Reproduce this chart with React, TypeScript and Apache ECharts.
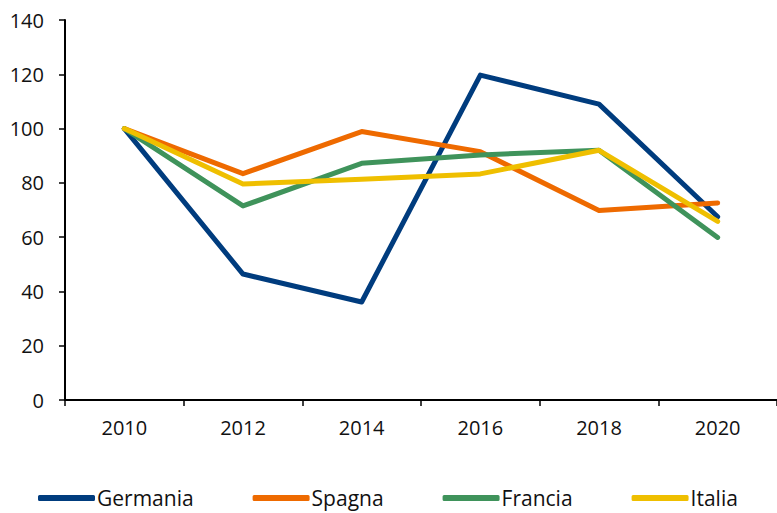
import React, { useEffect, useRef } from "react";
import * as echarts from "echarts";

const categories = ["2010", "2012", "2014", "2016", "2018", "2020"];
const germania = [100, 46.4, 36.1, 119.7, 109, 67.5];
const spagna = [100, 83.4, 98.9, 91.5, 69.8, 72.6];
const francia = [100, 71.5, 87.2, 90.3, 92, 59.9];
const italia = [100, 79.6, 81.3, 83.3, 92, 65.8];
const yTicks = { min: 0, max: 140, interval: 20 };

const seriesDefs = [
  { name: "Germania", data: germania, color: "#003C7E" },
  { name: "Spagna", data: spagna, color: "#EE6A00" },
  { name: "Francia", data: francia, color: "#3F935B" },
  { name: "Italia", data: italia, color: "#EFBF00" },
];

const FONT = "Open Sans";

export default function App() {
  const ref = useRef<HTMLDivElement>(null);
  useEffect(() => {
    document.body.style.margin = "0";
    const chart = echarts.init(ref.current!, null, { renderer: "svg" });
    chart.setOption({
      animation: false,
      backgroundColor: "#ffffff",
      grid: { left: 65, top: 20, width: 716, height: 380, containLabel: false },
      xAxis: {
        type: "category",
        data: categories,
        boundaryGap: true,
        axisLine: { show: true, lineStyle: { color: "#000", width: 2 } },
        axisTick: { show: true, length: 6, lineStyle: { color: "#000", width: 1.5 } },
        axisLabel: { color: "#111", fontFamily: FONT, fontSize: 20, margin: 17 },
        splitLine: { show: false },
      },
      yAxis: {
        type: "value",
        min: yTicks.min,
        max: yTicks.max,
        interval: yTicks.interval,
        axisLine: { show: true, lineStyle: { color: "#000", width: 2 } },
        axisTick: { show: true, length: 6, lineStyle: { color: "#000", width: 1.5 } },
        axisLabel: { color: "#111", fontFamily: FONT, fontSize: 20, margin: 21 },
        splitLine: { show: false },
      },
      legend: {
        left: 33,
        top: 482,
        itemWidth: 57,
        itemHeight: 6,
        itemGap: 59,
        icon: "roundRect",
        textStyle: {
          color: "#111",
          fontFamily: FONT,
          fontSize: 21,
          lineHeight: 22,
          padding: [0, 0, 0, -3],
        },
        data: seriesDefs.map((s) => s.name),
      },
      series: seriesDefs.map((s) => ({
        name: s.name,
        type: "line",
        data: s.data,
        symbol: "none",
        showSymbol: false,
        lineStyle: { color: s.color, width: 5, cap: "round", join: "round" },
        itemStyle: { color: s.color },
      })),
    });
    return () => chart.dispose();
  }, []);
  return <div ref={ref} style={{ width: 777, height: 513 }} />;
}
